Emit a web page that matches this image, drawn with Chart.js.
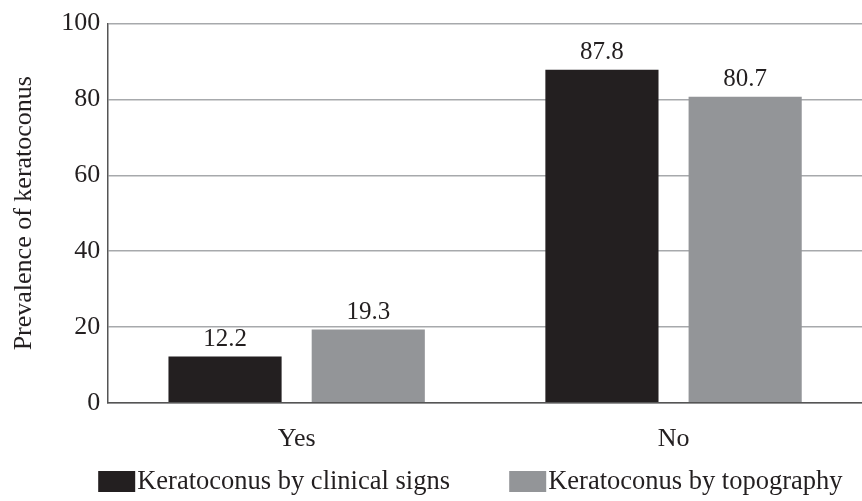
<!DOCTYPE html>
<html>
<head>
<meta charset="utf-8">
<script src="https://cdn.jsdelivr.net/npm/chart.js@4/dist/chart.umd.min.js"></script>
<style>
  html, body { margin: 0; padding: 0; background: #ffffff; }
  #wrap { width: 862px; height: 501px; position: relative; }
</style>
</head>
<body>
<div id="wrap"><canvas id="c" width="862" height="501"></canvas></div>
<script>
// Prevalence of keratoconus, grouped by diagnostic method
const categories = ['Yes', 'No'];
const clinicalSigns = [12.2, 87.8];
const topography = [19.3, 80.7];
const seriesNames = ['Keratoconus by clinical signs', 'Keratoconus by topography'];
const yTicks = [0, 20, 40, 60, 80, 100];

const BLACK = '#231f20';
const GREY = '#939598';
const SERIF = '"Liberation Serif", "Times New Roman", serif';

// Value labels drawn above each bar
const valueLabels = {
  id: 'valueLabels',
  afterDatasetsDraw(chart) {
    const ctx = chart.ctx;
    ctx.save();
    ctx.font = '25px ' + SERIF;
    ctx.fillStyle = BLACK;
    ctx.textAlign = 'center';
    ctx.textBaseline = 'alphabetic';
    chart.data.datasets.forEach((ds, i) => {
      chart.getDatasetMeta(i).data.forEach((bar, j) => {
        ctx.fillText(ds.data[j].toFixed(1), bar.x, bar.y - 11);
      });
    });
    ctx.restore();
  }
};

// Legend row under the category labels
const bottomLegend = {
  id: 'bottomLegend',
  afterDraw(chart) {
    const ctx = chart.ctx;
    const area = chart.chartArea;
    const y = 471;
    const starts = [area.left - 10, area.left + 401];
    ctx.save();
    ctx.font = '26.5px ' + SERIF;
    ctx.textBaseline = 'middle';
    chart.data.datasets.forEach((ds, i) => {
      const x = starts[i];
      ctx.fillStyle = ds.backgroundColor;
      ctx.fillRect(x, y, 37, 21);
      ctx.fillStyle = BLACK;
      ctx.fillText(ds.label, x + 39, y + 11);
    });
    ctx.restore();
  }
};

new Chart(document.getElementById('c'), {
  type: 'bar',
  data: {
    labels: categories,
    datasets: [
      { label: seriesNames[0], data: clinicalSigns, backgroundColor: BLACK },
      { label: seriesNames[1], data: topography, backgroundColor: GREY }
    ]
  },
  options: {
    responsive: false,
    animation: false,
    devicePixelRatio: 1,
    layout: { padding: { left: 9, right: 0, top: 10, bottom: 25 } },
    datasets: { bar: { categoryPercentage: 0.76, barPercentage: 0.79 } },
    plugins: {
      legend: { display: false },
      tooltip: { enabled: false }
    },
    scales: {
      x: {
        grid: { display: false, drawTicks: false },
        border: { display: true, color: '#555555', width: 1.5 },
        ticks: { color: BLACK, font: { family: SERIF, size: 26 }, padding: 21 }
      },
      y: {
        min: 0,
        max: 100,
        afterBuildTicks(axis) { axis.ticks = yTicks.map(v => ({ value: v })); },
        grid: { color: '#a7a9ac', lineWidth: 1.5, drawTicks: false },
        border: { display: true, color: '#555555', width: 1.5 },
        ticks: { color: BLACK, font: { family: SERIF, size: 26 }, padding: 8 },
        title: {
          display: true,
          text: 'Prevalence of keratoconus',
          color: BLACK,
          font: { family: SERIF, size: 26 },
          padding: { top: 0, bottom: 13 }
        }
      }
    }
  },
  plugins: [valueLabels, bottomLegend]
});
</script>
</body>
</html>
